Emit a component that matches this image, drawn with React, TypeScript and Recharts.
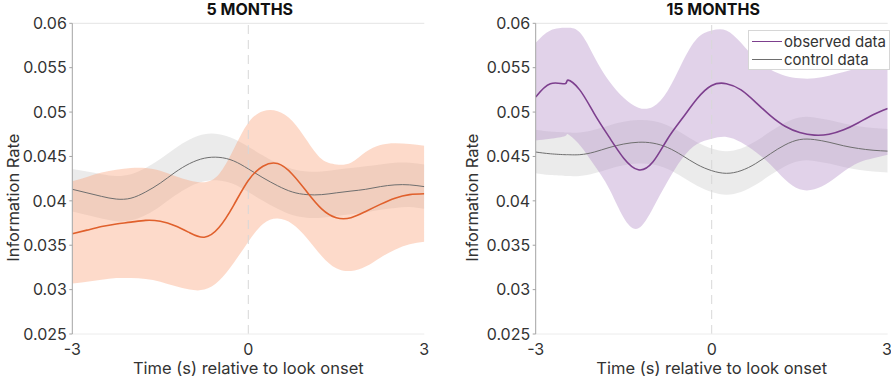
import React from 'react';
import {
  Area,
  ComposedChart,
  Legend,
  Line,
  ReferenceLine,
  XAxis,
  YAxis,
} from 'recharts';

// ---- data ----
const TIME_5M = [
  -3, -2.75, -2.5, -2.25, -2, -1.75, -1.5, -1.25, -1, -0.75, -0.5, -0.25, 0,
  0.25, 0.5, 0.75, 1, 1.25, 1.5, 1.75, 2, 2.25, 2.5, 2.75, 3,
];
const OBS_5M = [
  0.0363, 0.0367, 0.0371, 0.0374, 0.0376, 0.0378, 0.0377, 0.0372, 0.0364,
  0.0359, 0.037, 0.0395, 0.0423, 0.0439, 0.0442, 0.043, 0.041, 0.0391, 0.0381,
  0.0381, 0.0388, 0.0396, 0.0403, 0.0407, 0.0408,
];
const OBS_5M_LO = [
  0.0307, 0.0309, 0.0311, 0.0313, 0.0313, 0.0312, 0.0309, 0.0304, 0.03, 0.03,
  0.031, 0.033, 0.0354, 0.0374, 0.038, 0.0374, 0.0358, 0.0338, 0.0324, 0.0321,
  0.0326, 0.0336, 0.0345, 0.0351, 0.0354,
];
const OBS_5M_HI = [
  0.0422, 0.0427, 0.0432, 0.0435, 0.0437, 0.0437, 0.0434, 0.0428, 0.0423,
  0.0421, 0.043, 0.0458, 0.0488, 0.0501, 0.0501, 0.049, 0.0468, 0.0447, 0.0441,
  0.0443, 0.0455, 0.0463, 0.0465, 0.0464, 0.0462,
];
const CTL_5M = [
  0.0413, 0.0409, 0.0405, 0.0402, 0.0403, 0.041, 0.042, 0.0432, 0.0442, 0.0448,
  0.0449, 0.0445, 0.0436, 0.0426, 0.0417, 0.041, 0.0407, 0.0407, 0.0409,
  0.0411, 0.0413, 0.0416, 0.0418, 0.0418, 0.0416,
];
const CTL_5M_LO = [
  0.0388, 0.0384, 0.038, 0.0377, 0.0378, 0.0384, 0.0394, 0.0406, 0.0416,
  0.0422, 0.0423, 0.0419, 0.041, 0.04, 0.0391, 0.0384, 0.0381, 0.0381, 0.0383,
  0.0385, 0.0387, 0.039, 0.0392, 0.0393, 0.0391,
];
const CTL_5M_HI = [
  0.0436, 0.0433, 0.043, 0.0428, 0.043, 0.0437, 0.0447, 0.0459, 0.0469, 0.0475,
  0.0475, 0.047, 0.0461, 0.0451, 0.0442, 0.0436, 0.0433, 0.0433, 0.0435,
  0.0437, 0.0439, 0.0441, 0.0443, 0.0443, 0.0441,
];

const TIME_15M = [
  -3, -2.75, -2.5, -2.45, -2.25, -2, -1.75, -1.5, -1.25, -1, -0.75, -0.5,
  -0.25, 0, 0.25, 0.5, 0.75, 1, 1.25, 1.5, 1.75, 2, 2.25, 2.5, 2.75, 3,
];
const OBS_15M = [
  0.0517, 0.0532, 0.0532, 0.0536, 0.0525, 0.0498, 0.0472, 0.0448, 0.0435,
  0.0444, 0.047, 0.0493, 0.0515, 0.053, 0.0532, 0.0525, 0.0511, 0.0496,
  0.0484, 0.0477, 0.0474, 0.0475, 0.048, 0.0488, 0.0497, 0.0504,
];
const OBS_15M_LO = [
  0.0468, 0.047, 0.0473, 0.0475, 0.0463, 0.044, 0.0414, 0.0381, 0.0369, 0.0392,
  0.0422, 0.0448, 0.0464, 0.047, 0.0472, 0.0466, 0.0455, 0.0441, 0.0424,
  0.0413, 0.0413, 0.0421, 0.0433, 0.0443, 0.0448, 0.0452,
];
const OBS_15M_HI = [
  0.0578, 0.0592, 0.0595, 0.0595, 0.059, 0.0562, 0.0535, 0.0516, 0.0505,
  0.0506, 0.0524, 0.0556, 0.0583, 0.0592, 0.0592, 0.0578, 0.056, 0.0548,
  0.0541, 0.0538, 0.0538, 0.0541, 0.0545, 0.055, 0.0555, 0.0559,
];
const CTL_15M = [
  0.0455, 0.0453, 0.0452, 0.0452, 0.0452, 0.0455, 0.046, 0.0464, 0.0466,
  0.0465, 0.046, 0.0451, 0.0441, 0.0434, 0.0431, 0.0434, 0.0442, 0.0453,
  0.0463, 0.0469, 0.0469, 0.0466, 0.0462, 0.0459, 0.0457, 0.0456,
];
const CTL_15M_LO = [
  0.0431, 0.0429, 0.0428, 0.0428, 0.0428, 0.0431, 0.0436, 0.044, 0.0442,
  0.0441, 0.0436, 0.0427, 0.0417, 0.041, 0.0407, 0.041, 0.0418, 0.0429,
  0.0439, 0.0445, 0.0445, 0.0442, 0.0438, 0.0435, 0.0433, 0.0432,
];
const CTL_15M_HI = [
  0.048, 0.0478, 0.0477, 0.0477, 0.0477, 0.048, 0.0485, 0.0489, 0.0491, 0.049,
  0.0485, 0.0476, 0.0466, 0.0459, 0.0456, 0.0459, 0.0467, 0.0478, 0.0488,
  0.0494, 0.0494, 0.0491, 0.0487, 0.0484, 0.0482, 0.0481,
];

const X_TICKS = [-3, 0, 3];
const Y_TICKS = [0.025, 0.03, 0.035, 0.04, 0.045, 0.05, 0.055, 0.06];
const X_LABEL = 'Time (s) relative to look onset';
const Y_LABEL = 'Information Rate';
const LEGEND_ORDER = ['observed data', 'control data'];

const FONT = 'Inter, Roboto, sans-serif';
const TXT = '#333333';
const H = 381;

const buildRows = (
  time: number[],
  obs: number[],
  obsLo: number[],
  obsHi: number[],
  ctl: number[],
  ctlLo: number[],
  ctlHi: number[]
) =>
  time.map((t, i) => ({
    t,
    obs: obs[i],
    obsBand: [obsLo[i], obsHi[i]],
    ctl: ctl[i],
    ctlBand: [ctlLo[i], ctlHi[i]],
  }));

const rows5 = buildRows(TIME_5M, OBS_5M, OBS_5M_LO, OBS_5M_HI, CTL_5M, CTL_5M_LO, CTL_5M_HI);
const rows15 = buildRows(TIME_15M, OBS_15M, OBS_15M_LO, OBS_15M_HI, CTL_15M, CTL_15M_LO, CTL_15M_HI);

const LegendBox = ({ payload }: any) => {
  const items = LEGEND_ORDER.map((name) =>
    (payload || []).find((p: any) => p.value === name)
  ).filter(Boolean);
  return (
    <div
      style={{
        display: 'inline-block',
        whiteSpace: 'nowrap',
        border: '1px solid #d6d6d6',
        background: '#fff',
        padding: '2px 3px 1px 3px',
        fontFamily: FONT,
        fontSize: 15,
        lineHeight: '17.5px',
        color: TXT,
      }}
    >
      {items.map((it: any) => (
        <div key={it.value} style={{ display: 'flex', alignItems: 'center', height: 17.5 }}>
          <span
            style={{
              display: 'inline-block',
              width: 30,
              height: 0,
              borderTop: `${it.value === 'observed data' ? 1.6 : 1}px solid ${it.color}`,
              marginRight: 2,
            }}
          />
          <span>{it.value}</span>
        </div>
      ))}
    </div>
  );
};

type PanelProps = {
  left: number;
  width: number;
  yw: number;
  rm: number;
  title: string;
  rows: any[];
  line: string;
  band: string;
  labelDx: number;
  legend?: boolean;
};

const Panel = ({ left, width, yw, rm, title, rows, line, band, labelDx, legend }: PanelProps) => {
  const plotCenter = left + yw + (width - yw - rm) / 2;
  return (
    <>
      <div
        style={{
          position: 'absolute',
          left: plotCenter - 100 + 1.5,
          width: 200,
          top: -1,
          textAlign: 'center',
          fontWeight: 700,
          fontSize: 16,
          lineHeight: '20px',
          color: '#111',
          fontFamily: FONT,
        }}
      >
        {title}
      </div>
      <div style={{ position: 'absolute', left, top: 0 }}>
        <ComposedChart
          width={width}
          height={H}
          data={rows}
          margin={{ top: 23.3, right: rm, bottom: 0, left: 0 }}
          style={{ fontFamily: FONT }}
        >
          <XAxis
            type="number"
            dataKey="t"
            domain={[-3, 3]}
            ticks={X_TICKS}
            height={47}
            allowDataOverflow
            axisLine={{ stroke: '#ececec' }}
            tickLine={false}
            tickSize={6}
            tickMargin={4}
            tick={{ fill: TXT, fontSize: 16 }}
            label={{ value: X_LABEL, position: 'insideBottom', offset: 7, fill: TXT, fontSize: 16.5 }}
          />
          <YAxis
            domain={[0.025, 0.06]}
            ticks={Y_TICKS}
            width={yw}
            allowDataOverflow
            axisLine={{ stroke: '#a3a3a3' }}
            tickLine={{ stroke: '#a3a3a3' }}
            tickSize={3}
            tickMargin={2.5}
            tick={{ fill: TXT, fontSize: 16 }}
            label={{
              value: Y_LABEL,
              angle: -90,
              position: 'center',
              dx: labelDx,
              dy: 19,
              fill: TXT,
              fontSize: 16.5,
            }}
          />
          <YAxis
            yAxisId="r"
            orientation="right"
            mirror
            domain={[0.025, 0.06]}
            ticks={Y_TICKS}
            width={0}
            allowDataOverflow
            axisLine={{ stroke: '#a3a3a3' }}
            tickLine={{ stroke: '#a3a3a3' }}
            tickSize={4}
            tick={false}
          />
          <ReferenceLine y={0.06} stroke="#e4e4e4" />
          <Area
            type="natural"
            dataKey="ctlBand"
            stroke="none"
            fill="#bdbdbd"
            fillOpacity={0.3}
            legendType="none"
            isAnimationActive={false}
          />
          <Area
            type="natural"
            dataKey="obsBand"
            stroke="none"
            fill={band}
            fillOpacity={0.4}
            legendType="none"
            isAnimationActive={false}
          />
          <ReferenceLine x={0} stroke="#d8d8d8" strokeDasharray="9 6" />
          <Line
            type="natural"
            dataKey="ctl"
            name="control data"
            stroke="#6e6e6e"
            strokeWidth={1}
            dot={false}
            isAnimationActive={false}
          />
          <Line
            type="natural"
            dataKey="obs"
            name="observed data"
            stroke={line}
            strokeWidth={1.6}
            dot={false}
            isAnimationActive={false}
          />
          {legend && (
            <Legend
              layout="vertical"
              align="center"
              verticalAlign="middle"
              wrapperStyle={{ left: 295, top: 30, width: 'auto' }}
              content={<LegendBox />}
            />
          )}
        </ComposedChart>
      </div>
    </>
  );
};

export default function App() {
  return (
    <div
      style={{
        position: 'absolute',
        left: 0,
        top: 0,
        width: 891,
        height: H,
        overflow: 'hidden',
        background: '#fff',
        fontFamily: FONT,
      }}
    >
      <Panel
        left={0}
        width={445}
        yw={72.3}
        rm={20.7}
        title="5 MONTHS"
        rows={rows5}
        line="#e0602c"
        band="#f9a27a"
        labelDx={-22.8}
      />
      <Panel
        left={453}
        width={438}
        yw={82.7}
        rm={3.3}
        title="15 MONTHS"
        rows={rows15}
        line="#7d3f8e"
        band="#b48fc8"
        labelDx={-22.3}
        legend
      />
    </div>
  );
}
